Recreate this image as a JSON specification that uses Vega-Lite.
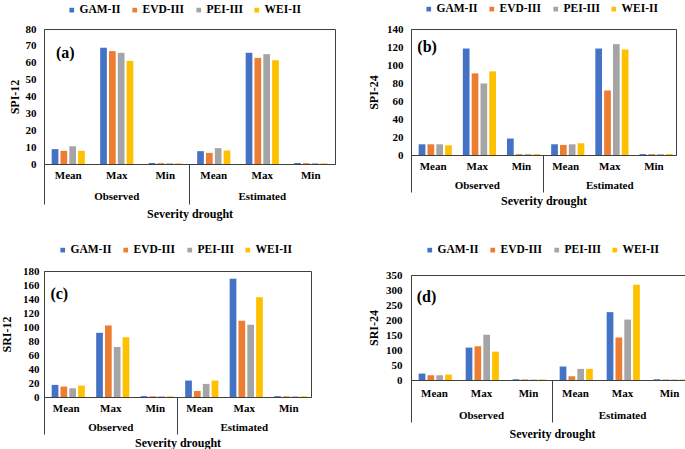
{
"$schema": "https://vega.github.io/schema/vega-lite/v6.json",
"padding": {"left": 0, "top": 2, "right": 0, "bottom": 0},
"background": "white",
"config": {
  "view": {"stroke": "#404040", "strokeWidth": 1},
  "axis": {"labelFont": "Liberation Serif", "labelFontWeight": "bold", "labelFontSize": 11, "labelColor": "#000", "titleFont": "Liberation Serif", "titleFontWeight": "bold", "titleFontSize": 12, "titleColor": "#000", "grid": false, "domainColor": "#404040", "tickColor": "#404040", "labelOverlap": false},
  "legend": {"orient": "none", "direction": "horizontal", "symbolType": "square", "symbolSize": 22, "symbolStrokeWidth": 0, "labelFont": "Liberation Serif", "labelFontWeight": "bold", "labelFontSize": 11.5, "labelColor": "#000", "labelOffset": 2, "columnPadding": 8, "title": null},
  "text": {"font": "Liberation Serif", "fontWeight": "bold"}
},
"datasets": {
  "a": [
    {"g":"Observed","c":"Observed-Mean","m":"GAM-II","v":8.8},{"g":"Observed","c":"Observed-Mean","m":"EVD-III","v":7.8},{"g":"Observed","c":"Observed-Mean","m":"PEI-III","v":10.5},{"g":"Observed","c":"Observed-Mean","m":"WEI-II","v":7.8},
    {"g":"Observed","c":"Observed-Max","m":"GAM-II","v":68.9},{"g":"Observed","c":"Observed-Max","m":"EVD-III","v":66.9},{"g":"Observed","c":"Observed-Max","m":"PEI-III","v":65.9},{"g":"Observed","c":"Observed-Max","m":"WEI-II","v":61.1},
    {"g":"Observed","c":"Observed-Min","m":"GAM-II","v":0.6},{"g":"Observed","c":"Observed-Min","m":"EVD-III","v":0.5},{"g":"Observed","c":"Observed-Min","m":"PEI-III","v":0.5},{"g":"Observed","c":"Observed-Min","m":"WEI-II","v":0.4},
    {"g":"Estimated","c":"Estimated-Mean","m":"GAM-II","v":7.6},{"g":"Estimated","c":"Estimated-Mean","m":"EVD-III","v":6.6},{"g":"Estimated","c":"Estimated-Mean","m":"PEI-III","v":9.4},{"g":"Estimated","c":"Estimated-Mean","m":"WEI-II","v":8.0},
    {"g":"Estimated","c":"Estimated-Max","m":"GAM-II","v":65.9},{"g":"Estimated","c":"Estimated-Max","m":"EVD-III","v":62.9},{"g":"Estimated","c":"Estimated-Max","m":"PEI-III","v":65.1},{"g":"Estimated","c":"Estimated-Max","m":"WEI-II","v":61.5},
    {"g":"Estimated","c":"Estimated-Min","m":"GAM-II","v":0.6},{"g":"Estimated","c":"Estimated-Min","m":"EVD-III","v":0.5},{"g":"Estimated","c":"Estimated-Min","m":"PEI-III","v":0.5},{"g":"Estimated","c":"Estimated-Min","m":"WEI-II","v":0.4}
  ],
  "b": [
    {"g":"Observed","c":"Observed-Mean","m":"GAM-II","v":11.9},{"g":"Observed","c":"Observed-Mean","m":"EVD-III","v":11.9},{"g":"Observed","c":"Observed-Mean","m":"PEI-III","v":11.9},{"g":"Observed","c":"Observed-Mean","m":"WEI-II","v":10.8},
    {"g":"Observed","c":"Observed-Max","m":"GAM-II","v":118.3},{"g":"Observed","c":"Observed-Max","m":"EVD-III","v":90.7},{"g":"Observed","c":"Observed-Max","m":"PEI-III","v":79.5},{"g":"Observed","c":"Observed-Max","m":"WEI-II","v":92.9},
    {"g":"Observed","c":"Observed-Min","m":"GAM-II","v":18.3},{"g":"Observed","c":"Observed-Min","m":"EVD-III","v":1},{"g":"Observed","c":"Observed-Min","m":"PEI-III","v":1},{"g":"Observed","c":"Observed-Min","m":"WEI-II","v":1},
    {"g":"Estimated","c":"Estimated-Mean","m":"GAM-II","v":11.9},{"g":"Estimated","c":"Estimated-Mean","m":"EVD-III","v":11.2},{"g":"Estimated","c":"Estimated-Mean","m":"PEI-III","v":11.9},{"g":"Estimated","c":"Estimated-Mean","m":"WEI-II","v":13.1},
    {"g":"Estimated","c":"Estimated-Max","m":"GAM-II","v":118.3},{"g":"Estimated","c":"Estimated-Max","m":"EVD-III","v":71.7},{"g":"Estimated","c":"Estimated-Max","m":"PEI-III","v":123.2},{"g":"Estimated","c":"Estimated-Max","m":"WEI-II","v":117.2},
    {"g":"Estimated","c":"Estimated-Min","m":"GAM-II","v":1},{"g":"Estimated","c":"Estimated-Min","m":"EVD-III","v":1},{"g":"Estimated","c":"Estimated-Min","m":"PEI-III","v":1},{"g":"Estimated","c":"Estimated-Min","m":"WEI-II","v":1}
  ],
  "c": [
    {"g":"Observed","c":"Observed-Mean","m":"GAM-II","v":17.3},{"g":"Observed","c":"Observed-Mean","m":"EVD-III","v":14.9},{"g":"Observed","c":"Observed-Mean","m":"PEI-III","v":12.5},{"g":"Observed","c":"Observed-Mean","m":"WEI-II","v":16.3},
    {"g":"Observed","c":"Observed-Max","m":"GAM-II","v":91.7},{"g":"Observed","c":"Observed-Max","m":"EVD-III","v":102.2},{"g":"Observed","c":"Observed-Max","m":"PEI-III","v":71.5},{"g":"Observed","c":"Observed-Max","m":"WEI-II","v":85.4},
    {"g":"Observed","c":"Observed-Min","m":"GAM-II","v":1.2},{"g":"Observed","c":"Observed-Min","m":"EVD-III","v":1},{"g":"Observed","c":"Observed-Min","m":"PEI-III","v":1},{"g":"Observed","c":"Observed-Min","m":"WEI-II","v":1},
    {"g":"Estimated","c":"Estimated-Mean","m":"GAM-II","v":23.5},{"g":"Estimated","c":"Estimated-Mean","m":"EVD-III","v":8.6},{"g":"Estimated","c":"Estimated-Mean","m":"PEI-III","v":18.7},{"g":"Estimated","c":"Estimated-Mean","m":"WEI-II","v":23.5},
    {"g":"Estimated","c":"Estimated-Max","m":"GAM-II","v":169},{"g":"Estimated","c":"Estimated-Max","m":"EVD-III","v":109},{"g":"Estimated","c":"Estimated-Max","m":"PEI-III","v":103.2},{"g":"Estimated","c":"Estimated-Max","m":"WEI-II","v":142.6},
    {"g":"Estimated","c":"Estimated-Min","m":"GAM-II","v":1.2},{"g":"Estimated","c":"Estimated-Min","m":"EVD-III","v":1},{"g":"Estimated","c":"Estimated-Min","m":"PEI-III","v":1},{"g":"Estimated","c":"Estimated-Min","m":"WEI-II","v":1}
  ],
  "d": [
    {"g":"Observed","c":"Observed-Mean","m":"GAM-II","v":21.4},{"g":"Observed","c":"Observed-Mean","m":"EVD-III","v":15.8},{"g":"Observed","c":"Observed-Mean","m":"PEI-III","v":15.8},{"g":"Observed","c":"Observed-Mean","m":"WEI-II","v":18},
    {"g":"Observed","c":"Observed-Max","m":"GAM-II","v":108},{"g":"Observed","c":"Observed-Max","m":"EVD-III","v":112.5},{"g":"Observed","c":"Observed-Max","m":"PEI-III","v":150.8},{"g":"Observed","c":"Observed-Max","m":"WEI-II","v":94.5},
    {"g":"Observed","c":"Observed-Min","m":"GAM-II","v":2.5},{"g":"Observed","c":"Observed-Min","m":"EVD-III","v":2},{"g":"Observed","c":"Observed-Min","m":"PEI-III","v":1.5},{"g":"Observed","c":"Observed-Min","m":"WEI-II","v":2},
    {"g":"Estimated","c":"Estimated-Mean","m":"GAM-II","v":45},{"g":"Estimated","c":"Estimated-Mean","m":"EVD-III","v":12.4},{"g":"Estimated","c":"Estimated-Mean","m":"PEI-III","v":37.1},{"g":"Estimated","c":"Estimated-Mean","m":"WEI-II","v":37.1},
    {"g":"Estimated","c":"Estimated-Max","m":"GAM-II","v":226.2},{"g":"Estimated","c":"Estimated-Max","m":"EVD-III","v":141.8},{"g":"Estimated","c":"Estimated-Max","m":"PEI-III","v":201.4},{"g":"Estimated","c":"Estimated-Max","m":"WEI-II","v":317.4},
    {"g":"Estimated","c":"Estimated-Min","m":"GAM-II","v":2.5},{"g":"Estimated","c":"Estimated-Min","m":"EVD-III","v":2},{"g":"Estimated","c":"Estimated-Min","m":"PEI-III","v":1.5},{"g":"Estimated","c":"Estimated-Min","m":"WEI-II","v":2}
  ]
},
"columns": 2,
"align": "none",
"spacing": {"row": 23, "column": 31},
"resolve": {"scale": {"color": "independent"}, "legend": {"color": "independent"}},
"concat": [
   {
    "width": 291, "height": 135,
    "resolve": {"scale": {"x": "independent"}, "axis": {"x": "independent"}},
    "layer": [
     {"layer": [
      {"data": {"name": "a"}, "mark": {"type": "bar"},
       "encoding": {
        "x": {"field": "c", "type": "nominal", "scale": {"type": "band", "domain": ["Observed-Mean","Observed-Max","Observed-Min","Estimated-Mean","Estimated-Max","Estimated-Min"], "paddingInner": 0, "paddingOuter": 0}, "axis": {"title": null, "ticks": false, "labelAngle": 0, "labelPadding": 5, "labelExpr": "split(datum.label,'-')[1]"}},
        "xOffset": {"field": "m", "type": "nominal", "scale": {"domain": ["GAM-II","EVD-III","PEI-III","WEI-II"], "paddingInner": 0.24, "paddingOuter": 0.87}},
        "y": {"field": "v", "type": "quantitative", "scale": {"domain": [0, 80], "nice": false}, "axis": {"title": "SPI-12", "values": [0,10,20,30,40,50,60,70,80], "labelOverlap": false, "ticks": false, "labelPadding": 8, "titlePadding": 4}},
        "color": {"field": "m", "type": "nominal", "scale": {"domain": ["GAM-II","EVD-III","PEI-III","WEI-II"], "range": ["#4472C4","#ED7D31","#A5A5A5","#FFC000"]}, "legend": {"legendX": 22, "legendY": -25}}
       }},
      {"data": {"values": [{"lab": "(a)"}]}, "mark": {"type": "text", "fontSize": 16, "dx": -3},
       "encoding": {
        "x": {"datum": "Observed-Mean", "type": "nominal", "axis": {"title": null, "ticks": false, "labelAngle": 0, "labelPadding": 5, "labelExpr": "split(datum.label,'-')[1]"}},
        "y": {"datum": 66, "type": "quantitative", "axis": {"title": "SPI-12", "values": [0,10,20,30,40,50,60,70,80], "labelOverlap": false, "ticks": false, "labelPadding": 8, "titlePadding": 4}},
        "text": {"field": "lab"}}}
     ]},
     {"data": {"name": "a"}, "mark": {"type": "text", "text": ""},
      "encoding": {"x": {"field": "g", "type": "nominal", "scale": {"type": "band", "domain": ["Observed","Estimated"], "paddingInner": 0, "paddingOuter": 0}, "axis": {"orient": "bottom", "title": "Severity drought", "domain": false, "ticks": true, "tickSize": 40, "bandPosition": 0, "labelAngle": 0, "labelPadding": -13.5, "titlePadding": 3.5}}}}
    ]
   },
   {
    "width": 265, "height": 126,
    "resolve": {"scale": {"x": "independent"}, "axis": {"x": "independent"}},
    "layer": [
     {"layer": [
      {"data": {"name": "b"}, "mark": {"type": "bar"},
       "encoding": {
        "x": {"field": "c", "type": "nominal", "scale": {"type": "band", "domain": ["Observed-Mean","Observed-Max","Observed-Min","Estimated-Mean","Estimated-Max","Estimated-Min"], "paddingInner": 0, "paddingOuter": 0}, "axis": {"title": null, "ticks": false, "labelAngle": 0, "labelPadding": 5.5, "labelExpr": "split(datum.label,'-')[1]"}},
        "xOffset": {"field": "m", "type": "nominal", "scale": {"domain": ["GAM-II","EVD-III","PEI-III","WEI-II"], "paddingInner": 0.24, "paddingOuter": 0.87}},
        "y": {"field": "v", "type": "quantitative", "scale": {"domain": [0, 140], "nice": false}, "axis": {"title": "SPI-24", "values": [0,20,40,60,80,100,120,140], "labelOverlap": false, "ticks": false, "labelPadding": 8, "titlePadding": 6}},
        "color": {"field": "m", "type": "nominal", "scale": {"domain": ["GAM-II","EVD-III","PEI-III","WEI-II"], "range": ["#4472C4","#ED7D31","#A5A5A5","#FFC000"]}, "legend": {"legendX": 12, "legendY": -26}}
       }},
      {"data": {"values": [{"lab": "(b)"}]}, "mark": {"type": "text", "fontSize": 16, "dx": -6},
       "encoding": {
        "x": {"datum": "Observed-Mean", "type": "nominal", "axis": {"title": null, "ticks": false, "labelAngle": 0, "labelPadding": 5.5, "labelExpr": "split(datum.label,'-')[1]"}},
        "y": {"datum": 120, "type": "quantitative", "axis": {"title": "SPI-24", "values": [0,20,40,60,80,100,120,140], "labelOverlap": false, "ticks": false, "labelPadding": 8, "titlePadding": 6}},
        "text": {"field": "lab"}}}
     ]},
     {"data": {"name": "b"}, "mark": {"type": "text", "text": ""},
      "encoding": {"x": {"field": "g", "type": "nominal", "scale": {"type": "band", "domain": ["Observed","Estimated"], "paddingInner": 0, "paddingOuter": 0}, "axis": {"orient": "bottom", "title": "Severity drought", "domain": false, "ticks": true, "tickSize": 37, "bandPosition": 0, "labelAngle": 0, "labelPadding": -12.5, "titlePadding": 2.5}}}}
    ]
   },
   {
    "width": 267, "height": 126,
    "resolve": {"scale": {"x": "independent"}, "axis": {"x": "independent"}},
    "layer": [
     {"layer": [
      {"data": {"name": "c"}, "mark": {"type": "bar"},
       "encoding": {
        "x": {"field": "c", "type": "nominal", "scale": {"type": "band", "domain": ["Observed-Mean","Observed-Max","Observed-Min","Estimated-Mean","Estimated-Max","Estimated-Min"], "paddingInner": 0, "paddingOuter": 0}, "axis": {"title": null, "ticks": false, "labelAngle": 0, "labelPadding": 5, "labelExpr": "split(datum.label,'-')[1]"}},
        "xOffset": {"field": "m", "type": "nominal", "scale": {"domain": ["GAM-II","EVD-III","PEI-III","WEI-II"], "paddingInner": 0.24, "paddingOuter": 0.87}},
        "y": {"field": "v", "type": "quantitative", "scale": {"domain": [0, 180], "nice": false}, "axis": {"title": "SRI-12", "values": [0,20,40,60,80,100,120,140,160,180], "labelOverlap": false, "ticks": false, "labelPadding": 5, "titlePadding": 9}},
        "color": {"field": "m", "type": "nominal", "scale": {"domain": ["GAM-II","EVD-III","PEI-III","WEI-II"], "range": ["#4472C4","#ED7D31","#A5A5A5","#FFC000"]}, "legend": {"legendX": 13, "legendY": -27}}
       }},
      {"data": {"values": [{"lab": "(c)"}]}, "mark": {"type": "text", "fontSize": 16, "dx": -7},
       "encoding": {
        "x": {"datum": "Observed-Mean", "type": "nominal", "axis": {"title": null, "ticks": false, "labelAngle": 0, "labelPadding": 5, "labelExpr": "split(datum.label,'-')[1]"}},
        "y": {"datum": 147, "type": "quantitative", "axis": {"title": "SRI-12", "values": [0,20,40,60,80,100,120,140,160,180], "labelOverlap": false, "ticks": false, "labelPadding": 5, "titlePadding": 9}},
        "text": {"field": "lab"}}}
     ]},
     {"data": {"name": "c"}, "mark": {"type": "text", "text": ""},
      "encoding": {"x": {"field": "g", "type": "nominal", "scale": {"type": "band", "domain": ["Observed","Estimated"], "paddingInner": 0, "paddingOuter": 0}, "axis": {"orient": "bottom", "title": "Severity drought", "domain": false, "ticks": true, "tickSize": 37, "bandPosition": 0, "labelAngle": 0, "labelPadding": -12.5, "titlePadding": 2.5}}}}
    ]
   },
   {
    "width": 282, "height": 105,
    "resolve": {"scale": {"x": "independent"}, "axis": {"x": "independent"}},
    "layer": [
     {"layer": [
      {"data": {"name": "d"}, "mark": {"type": "bar"},
       "encoding": {
        "x": {"field": "c", "type": "nominal", "scale": {"type": "band", "domain": ["Observed-Mean","Observed-Max","Observed-Min","Estimated-Mean","Estimated-Max","Estimated-Min"], "paddingInner": 0, "paddingOuter": 0}, "axis": {"title": null, "ticks": false, "labelAngle": 0, "labelPadding": 7.5, "labelExpr": "split(datum.label,'-')[1]"}},
        "xOffset": {"field": "m", "type": "nominal", "scale": {"domain": ["GAM-II","EVD-III","PEI-III","WEI-II"], "paddingInner": 0.24, "paddingOuter": 0.87}},
        "y": {"field": "v", "type": "quantitative", "scale": {"domain": [0, 350], "nice": false}, "axis": {"title": "SRI-24", "values": [0,50,100,150,200,250,300,350], "labelOverlap": false, "ticks": false, "labelPadding": 9, "titlePadding": 5}},
        "color": {"field": "m", "type": "nominal", "scale": {"domain": ["GAM-II","EVD-III","PEI-III","WEI-II"], "range": ["#4472C4","#ED7D31","#A5A5A5","#FFC000"]}, "legend": {"legendX": 13, "legendY": -31}}
       }},
      {"data": {"values": [{"lab": "(d)"}]}, "mark": {"type": "text", "fontSize": 16, "dx": -8},
       "encoding": {
        "x": {"datum": "Observed-Mean", "type": "nominal", "axis": {"title": null, "ticks": false, "labelAngle": 0, "labelPadding": 7.5, "labelExpr": "split(datum.label,'-')[1]"}},
        "y": {"datum": 276, "type": "quantitative", "axis": {"title": "SRI-24", "values": [0,50,100,150,200,250,300,350], "labelOverlap": false, "ticks": false, "labelPadding": 9, "titlePadding": 5}},
        "text": {"field": "lab"}}}
     ]},
     {"data": {"name": "d"}, "mark": {"type": "text", "text": ""},
      "encoding": {"x": {"field": "g", "type": "nominal", "scale": {"type": "band", "domain": ["Observed","Estimated"], "paddingInner": 0, "paddingOuter": 0}, "axis": {"orient": "bottom", "title": "Severity drought", "domain": false, "ticks": true, "tickSize": 42, "bandPosition": 0, "labelAngle": 0, "labelPadding": -12.5, "titlePadding": 5.5}}}}
    ]
   }
]
}
